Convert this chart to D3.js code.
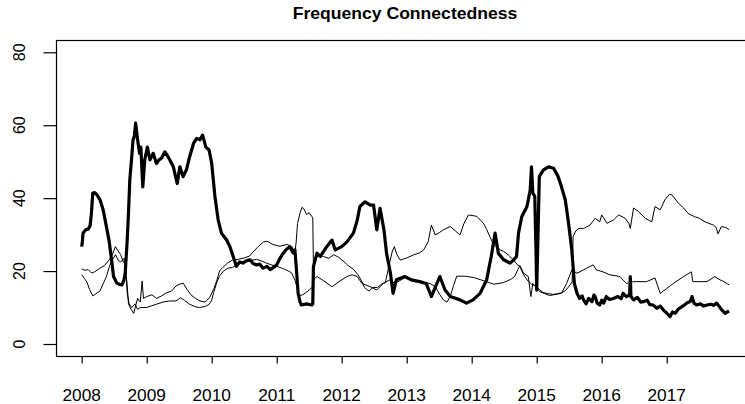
<!DOCTYPE html>
<html>
<head>
<meta charset="utf-8">
<script src="https://cdn.jsdelivr.net/npm/d3@7"></script>
<style>
html,body{margin:0;padding:0;background:#fff;}
svg{display:block;}
text{font-family:"Liberation Sans",Arial,Helvetica,sans-serif;fill:#000;}
</style>
</head>
<body>
<svg id="chart" width="745" height="404"></svg>
<script>
// ---- data (decimal years, connectedness values) ----
const title = "Frequency Connectedness";
const yearTicks = [2008,2009,2010,2011,2012,2013,2014,2015,2016,2017];
const yTicks = [0,20,40,60,80];

// thick series
const tA = [2008.00,2008.01,2008.02,2008.06,2008.10,2008.13,2008.15,2008.17,2008.20,2008.23,2008.28,2008.33,2008.38,2008.42,2008.46,2008.49,2008.54,2008.58,2008.62,2008.65,2008.67,2008.70,2008.72,2008.74,2008.77,2008.79,2008.81,2008.83,2008.86,2008.89,2008.91,2008.94,2008.97,2009.01,2009.05,2009.10,2009.15,2009.19,2009.23,2009.28,2009.33,2009.37,2009.41,2009.47,2009.51,2009.56,2009.61,2009.66,2009.72,2009.77,2009.82,2009.86,2009.91,2009.96,2010.00,2010.05,2010.10,2010.15,2010.23,2010.28,2010.33,
  2010.38,2010.43,2010.48,2010.53,2010.59,2010.64,2010.69,2010.74,2010.79,2010.85,2010.90,2010.95,2011.00,2011.05,2011.10,2011.15,2011.20,
  2011.25,2011.28,2011.30,2011.33,2011.36,2011.38,2011.46,2011.54,2011.555,2011.565,2011.62,2011.67,2011.77,2011.85,2011.90,2012.00,2012.08,2012.18,2012.24,2012.28,2012.36,2012.44,2012.49,2012.54,2012.59,2012.65,2012.69,2012.75,2012.79,2012.84,2012.97,2013.07,2013.20,2013.30,2013.38,2013.45,2013.51,2013.59,2013.67,2013.82,2013.92,2014.02,2014.13,2014.23,2014.30,2014.36,2014.41,2014.49,2014.59,2014.64,2014.69,2014.72,2014.77,2014.85,2014.90,2014.92,2014.94,2014.97,2014.99,2015.00,2015.02,2015.04,2015.10,2015.18,2015.26,2015.33,2015.38,2015.44,2015.49,2015.54,2015.58,
  2015.62,2015.66,2015.70,2015.72,2015.76,2015.80,2015.85,2015.88,2015.90,2015.93,2015.97,2016.00,2016.03,2016.07,2016.12,2016.18,2016.25,2016.30,2016.33,2016.38,2016.43,2016.44,2016.45,2016.49,2016.55,2016.60,2016.64,2016.70,2016.74,2016.79,2016.85,2016.90,2016.95,2017.00,2017.05,2017.09,2017.13,2017.18,2017.23,2017.28,2017.32,2017.36,2017.39,2017.42,2017.46,2017.52,2017.57,2017.62,2017.68,2017.72,2017.77,2017.80,2017.85,2017.90,2017.96];
const vA = [26.7,28,30.4,31.3,31.5,32.5,35.9,41.4,41.5,41,39.6,36.8,32.2,28.5,23,18.5,16.7,16.4,16.2,17.5,19.5,28.5,36,45,51.4,56,57,60.6,56,52.3,54,43.1,50.5,54,50.5,52.3,49.5,50.5,51,52.7,51.3,50,48.6,44,48.6,45.9,47.7,51.3,55,56.4,56,57.3,54,53.2,49.5,40.4,34,30.4,28.5,26.7,24,
  21.3,22.5,22.2,22.8,23.1,22.0,21.7,21.9,20.8,21.3,20.4,21.0,21.7,23.5,24.9,26.0,26.7,
  25,25.8,21.3,13.9,11.5,10.7,11,10.7,11,21.2,24.9,24,26.7,28.5,25.8,26.7,28,30.4,34,37.7,39,38.1,38.1,31.3,37.2,31.3,24.9,19.4,13.9,17.6,18.5,17.6,17.1,16.6,13,16,18.5,14.8,13,12.1,11.2,12.1,13.9,17.6,24,30.4,24.9,23.1,22.2,23,24,30.4,34.9,37.7,42.2,48.6,41.4,40.5,25,14.8,30,45.9,47.7,48.6,48.2,45.9,43.2,39.5,33.1,25.8,16.6,
  13.9,12.5,13.2,12.1,11.0,12.5,11.6,13.4,13,11.2,10.7,12.0,11.2,13,12.2,12.5,13.0,12.4,13.9,13,13.5,18.5,13,12.1,12.8,11.5,11.6,12.0,10.8,10.7,9.8,10.4,9.3,8.5,7.5,8.8,8.4,9.6,10.2,10.8,11.4,11.6,13,11.2,10.7,11.0,10.4,10.7,10.9,10.6,11.2,10.5,9.3,8.4,9.1];

// thin series B
const tB = [2008.00,2008.05,2008.10,2008.15,2008.20,2008.28,2008.35,2008.42,2008.47,2008.52,2008.56,2008.60,2008.64,2008.67,2008.70,2008.72,2008.76,2008.80,2008.83,2008.86,2008.90,2008.93,2008.95,2009.00,2009.08,2009.15,2009.23,2009.30,2009.38,2009.45,2009.52,2009.56,2009.62,2009.68,2009.75,2009.82,2009.90,2009.97,2010.03,2010.08,2010.12,2010.17,2010.25,2010.32,2010.40,2010.50,2010.58,2010.65,2010.72,2010.80,2010.85,2010.94,2011.05,2011.16,2011.23,2011.28,2011.30,2011.32,2011.36,2011.39,2011.42,2011.46,2011.50,2011.54,2011.555,2011.565,2011.60,2011.65,2011.72,2011.80,2011.88,2011.95,2012.02,2012.10,2012.18,2012.25,2012.30,2012.35,2012.42,2012.48,2012.55,2012.62,2012.67,2012.71,2012.74,2012.78,2012.81,2012.85,2012.90,2013.00,2013.10,2013.20,2013.26,2013.33,2013.38,2013.44,2013.50,2013.56,2013.62,2013.67,2013.75,2013.82,2013.88,2013.95,2014.02,2014.08,2014.13,2014.18,2014.23,2014.28,2014.33,2014.38,2014.44,2014.49,2014.56,2014.64,2014.70,2014.74,2014.80,2014.85,2014.92,2014.99,2015.05,2015.10,2015.18,2015.25,2015.32,2015.39,2015.45,2015.50,2015.545,2015.56,2015.60,2015.65,2015.72,2015.82,2015.90,2015.97,2016.00,2016.08,2016.18,2016.26,2016.36,2016.42,2016.44,2016.49,2016.56,2016.67,2016.77,2016.82,2016.90,2016.97,2017.04,2017.08,2017.18,2017.26,2017.33,2017.43,2017.50,2017.59,2017.72,2017.76,2017.79,2017.84,2017.90,2017.96];
const vB = [20.6,20.2,20.4,19.5,19.8,20.8,21.5,23,24.5,26.7,25.5,24.5,22.5,21.8,16,11,9.5,8.4,10.5,12.5,11.5,17.3,12.5,13,13.5,12.5,13.2,14,14.5,15.9,16.5,16.7,15,13.5,12.5,11.8,11.5,12.8,15,17.5,20,21,22.3,23,23.2,23.6,24.1,25.5,26.8,28,28.2,27.3,26.8,27.3,26.8,25,28,33,36,37.5,37,35.5,36,35,34.5,21,23.5,24.5,24,23.5,24.5,23.8,22.8,21.5,20.5,19,17.5,15.5,14.5,15.5,15.5,16.5,16.8,20,22.5,25.5,26.7,24.5,23,23.6,24.4,25,25.8,28,32.6,29.9,30.5,31.3,31.8,32.2,31,29.9,33,35.4,35.2,35,34,33.2,31.4,29.4,27.5,26.7,25.8,25.4,24.5,23.1,21.8,21.3,19,17.6,16.4,15.9,14.8,14.1,13.8,13.6,13.8,14.1,14.8,15.9,17,29.4,31,31.7,31.7,32.6,34.5,33.5,35.4,33.1,34,35.4,34.5,33,31.7,37.3,36.4,34.5,33.5,37.7,36.8,39.5,41,40.9,38.6,37.3,35.8,34.9,34.5,33.5,32.6,32,30.2,32.2,32,31.4];

// thin series C
const tC = [2008.00,2008.04,2008.08,2008.12,2008.17,2008.22,2008.28,2008.33,2008.38,2008.43,2008.47,2008.52,2008.56,2008.60,2008.65,2008.68,2008.70,2008.73,2008.77,2008.82,2008.86,2008.90,2009.00,2009.08,2009.15,2009.25,2009.35,2009.45,2009.52,2009.58,2009.66,2009.75,2009.81,2009.90,2009.96,2010.00,2010.03,2010.08,2010.12,2010.18,2010.25,2010.32,2010.39,2010.47,2010.54,2010.62,2010.69,2010.76,2010.83,2010.90,2010.98,2011.05,2011.12,2011.18,2011.23,2011.28,2011.31,2011.34,2011.40,2011.45,2011.50,2011.555,2011.565,2011.62,2011.70,2011.85,2011.95,2012.08,2012.16,2012.24,2012.31,2012.44,2012.54,2012.64,2012.74,2012.82,2013.00,2013.10,2013.20,2013.36,2013.44,2013.51,2013.57,2013.62,2013.67,2013.72,2013.77,2013.90,2014.04,2014.19,2014.34,2014.48,2014.60,2014.66,2014.74,2014.80,2014.87,2014.91,2014.94,2015.05,2015.20,2015.38,2015.46,2015.54,2015.62,2015.77,2015.87,2015.92,2016.02,2016.12,2016.28,2016.38,2016.49,2016.69,2016.82,2016.90,2017.00,2017.10,2017.26,2017.38,2017.40,2017.62,2017.74,2017.82,2017.88,2017.96];
const vC = [19,18,17,15,13.2,13.8,14.5,16.5,18.5,21.5,23,24.5,23,22.5,23.5,20,14,11,10,11,9.5,10,10,10.5,10.9,11.5,11.8,11.8,12.7,12,10.9,10.2,10,10.3,10.9,12,14.1,17,18.6,20,20.8,21,21.8,22.5,22.7,23,23.2,22.8,22.3,21.8,21.4,21,20.5,20,19.5,17.5,15.9,13.2,13.5,14.1,14.8,15.7,17.6,18.5,17.6,15.7,17,18.5,19,18.5,16.6,15.7,14.8,16.6,17.6,16.6,18.5,17.6,17.1,16.6,15.7,13.5,12,11.5,13,16,18.6,18.6,18.2,17.3,16.4,16.8,17.7,18.5,21.5,19.4,18.5,13,16.6,14.3,13.3,13.9,16.6,20.3,19.4,20.8,21.7,20.3,19.8,19,18.5,16.6,17.1,17.1,18.1,13.9,15.2,16.6,18.5,19.8,17.1,17.1,18.5,17.6,17.1,16.2];

// ---- drawing ----
const svg = d3.select("#chart");
const box = {left:56, top:40, bottom:356, right:753};
const x = d3.scaleLinear().domain([2008, 2017]).range([81.7, 666.7]);
const y = d3.scaleLinear().domain([0, 80]).range([344, 52.3]);

const zip = (t, v) => t.slice(0, Math.min(t.length, v.length)).map((d, i) => [d, v[i]]);
const line = d3.line().x(d => x(d[0])).y(d => y(d[1]));

svg.append("path").datum(zip(tB, vB)).attr("d", line)
  .attr("fill", "none").attr("stroke", "#000").attr("stroke-width", 1).attr("stroke-linejoin", "round");
svg.append("path").datum(zip(tC, vC)).attr("d", line)
  .attr("fill", "none").attr("stroke", "#000").attr("stroke-width", 1).attr("stroke-linejoin", "round");
svg.append("path").datum(zip(tA, vA)).attr("d", line)
  .attr("fill", "none").attr("stroke", "#000").attr("stroke-width", 3.2).attr("stroke-linejoin", "round");

// box
svg.append("rect").attr("x", box.left + 0.5).attr("y", box.top + 0.5)
  .attr("width", box.right - box.left).attr("height", box.bottom - box.top)
  .attr("fill", "none").attr("stroke", "#000").attr("stroke-width", 1.2);

// y axis
const yAxis = d3.axisLeft(y).tickValues(yTicks).tickSize(13).tickFormat("");
const gy = svg.append("g").attr("transform", `translate(${box.left + 0.5},0)`).call(yAxis);
gy.select(".domain").remove();
gy.selectAll("line").attr("stroke", "#000").attr("stroke-width", 1.2);
svg.selectAll(".ylab").data(yTicks).enter().append("text")
  .attr("class", "ylab")
  .attr("transform", d => `translate(25,${y(d)}) scale(1.08,1) rotate(-90)`)
  .attr("text-anchor", "middle").attr("font-size", 16).text(d => d);

// x axis
const xAxis = d3.axisBottom(x).tickValues(yearTicks).tickSize(7).tickFormat("");
const gx = svg.append("g").attr("transform", `translate(0,${box.bottom + 0.5})`).call(xAxis);
gx.select(".domain").remove();
gx.selectAll("line").attr("stroke", "#000").attr("stroke-width", 1.2);
svg.selectAll(".xlab").data(yearTicks).enter().append("text")
  .attr("class", "xlab")
  .attr("transform", d => `translate(${x(d)},401) scale(1.08,1)`)
  .attr("text-anchor", "middle").attr("font-size", 16).text(d => d);

// title
svg.append("text").attr("transform", "translate(405,19) scale(1.1,1)")
  .attr("text-anchor", "middle").attr("font-size", 16).attr("font-weight", "bold").text(title);
</script>
</body>
</html>
